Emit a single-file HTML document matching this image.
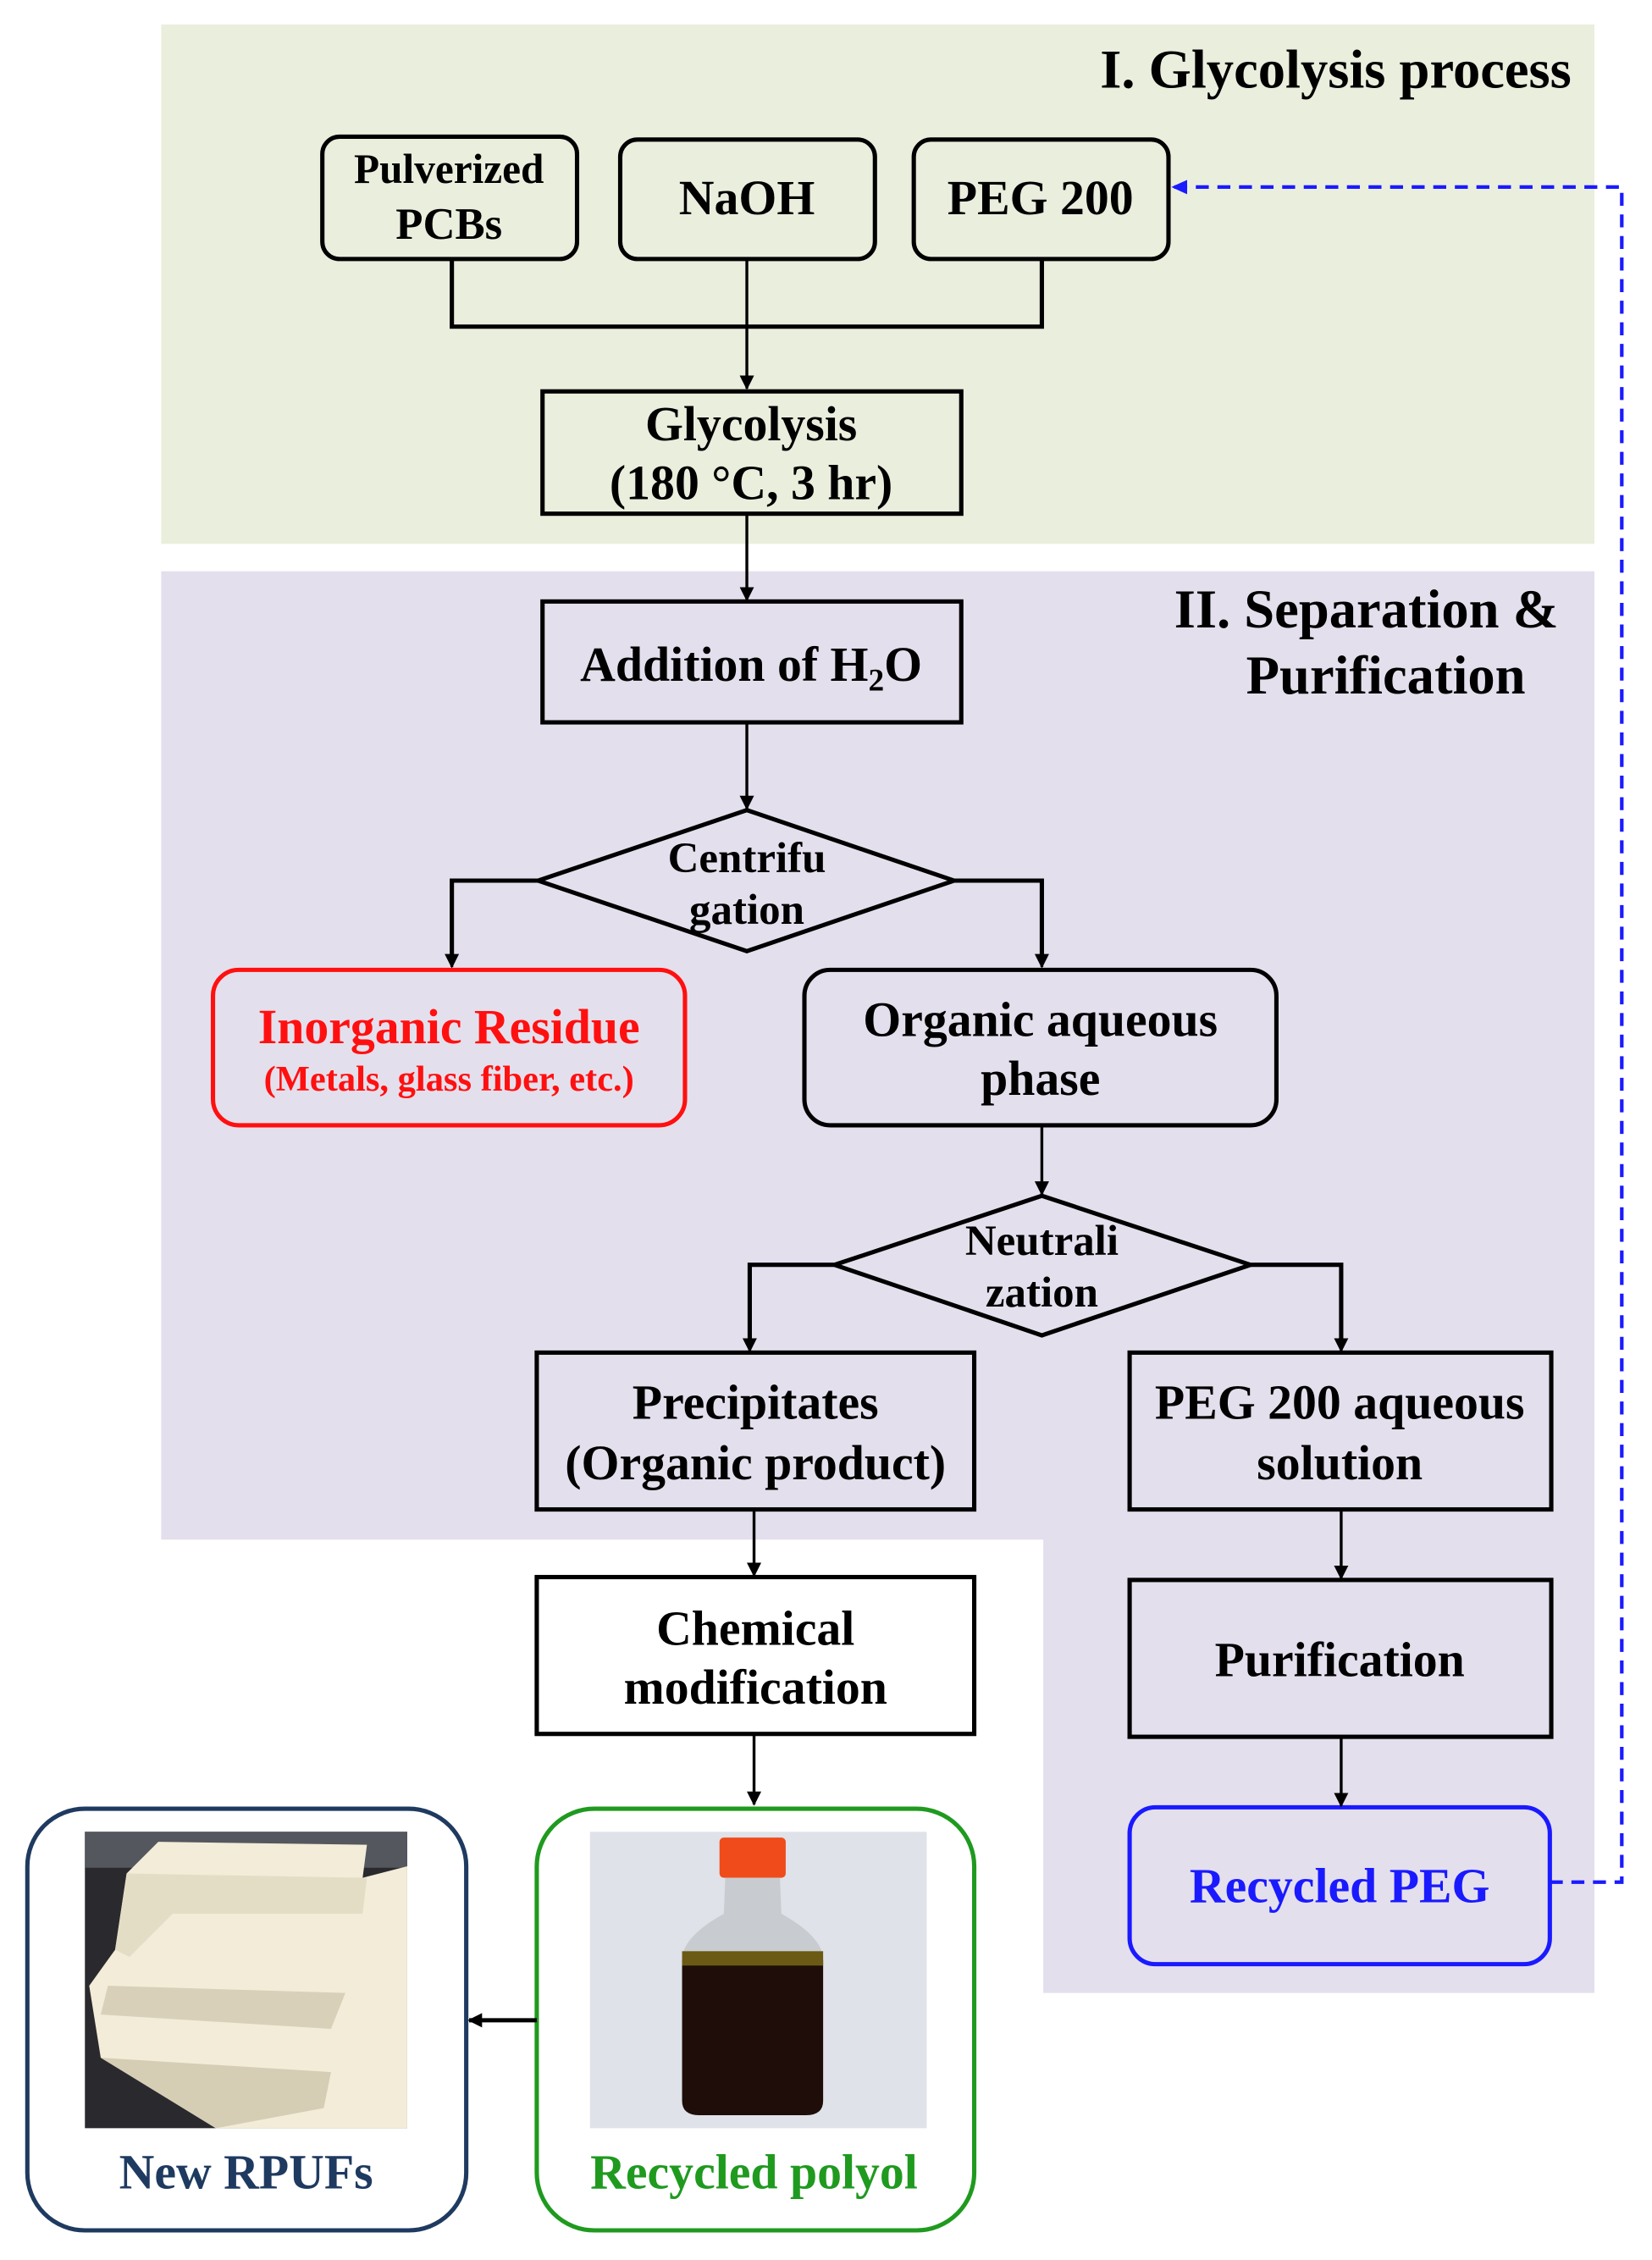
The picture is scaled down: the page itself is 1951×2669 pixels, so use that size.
<!DOCTYPE html>
<html><head><meta charset="utf-8"><style>
html,body{margin:0;padding:0;background:#fff;}
svg{display:block;}
text{font-family:"Liberation Serif",serif;font-weight:bold;}
</style></head><body>
<svg width="1951" height="2669" viewBox="0 0 1148 1570.6" preserveAspectRatio="none" xmlns="http://www.w3.org/2000/svg">
<defs>
<marker id="ah" markerWidth="10" markerHeight="12" refX="9" refY="6" orient="auto" markerUnits="userSpaceOnUse"><path d="M0,1 L10,6 L0,11 Z" fill="#000"/></marker>
<marker id="ahb" markerWidth="12" markerHeight="12" refX="10" refY="6" orient="auto" markerUnits="userSpaceOnUse"><path d="M0,1 L11,6 L0,11 Z" fill="#1a1aff"/></marker>
</defs>
<rect x="112" y="17" width="996" height="361" fill="#eaeedd"/>
<polygon points="112,397 1108,397 1108,1385 725,1385 725,1070 112,1070" fill="#e4dfec"/>
<text x="1092" y="61" font-size="38" text-anchor="end">I. Glycolysis process</text>
<text x="1083" y="436" font-size="38" text-anchor="end">II. Separation &amp;</text>
<text x="963" y="482" font-size="38" text-anchor="middle">Purification</text>

<g fill="none" stroke="#000" stroke-width="3">
<rect x="224" y="95" width="177" height="85" rx="12"/>
<rect x="431" y="97" width="177" height="83" rx="12"/>
<rect x="635" y="97" width="177" height="83" rx="12"/>
<polyline points="314,180 314,227 724,227 724,180"/>
<rect x="377" y="272" width="291" height="85"/>
<rect x="377" y="418" width="291" height="84"/>
<polygon points="374,612 519,563 663,612 519,661"/>
<polyline points="374,612 314,612 314,665"/>
<polyline points="663,612 724,612 724,665"/>
<rect x="559" y="674" width="328" height="108" rx="18"/>
<polygon points="580,879 724,831 869,879 724,928"/>
<polyline points="580,879 521,879 521,933"/>
<polyline points="869,879 932,879 932,933"/>
<rect x="373" y="940" width="304" height="109"/>
<rect x="785" y="940" width="293" height="109"/>
<rect x="373" y="1096" width="304" height="109" fill="#fff"/>
<rect x="785" y="1098" width="293" height="109"/>
</g>
<rect x="148" y="674" width="328" height="108" rx="18" fill="none" stroke="#ff1010" stroke-width="3"/>
<rect x="785" y="1256" width="292" height="109" rx="18" fill="none" stroke="#1a1aff" stroke-width="3"/>
<rect x="373" y="1257" width="304" height="293" rx="40" fill="#fff" stroke="#1f9a1f" stroke-width="3"/>
<rect x="19" y="1257" width="305" height="293" rx="40" fill="#fff" stroke="#1f3a60" stroke-width="3"/>

<g stroke="#000" stroke-width="2" marker-end="url(#ah)">
<line x1="519" y1="180" x2="519" y2="270"/>
<line x1="519" y1="357" x2="519" y2="417"/>
<line x1="519" y1="502" x2="519" y2="562"/>
<line x1="314" y1="640" x2="314" y2="672"/>
<line x1="724" y1="640" x2="724" y2="672"/>
<line x1="724" y1="782" x2="724" y2="830"/>
<line x1="521" y1="910" x2="521" y2="939"/>
<line x1="932" y1="910" x2="932" y2="939"/>
<line x1="524" y1="1049" x2="524" y2="1095"/>
<line x1="932" y1="1049" x2="932" y2="1097"/>
<line x1="524" y1="1205" x2="524" y2="1254"/>
<line x1="932" y1="1207" x2="932" y2="1255"/>
<line x1="373" y1="1404" x2="326" y2="1404" stroke-width="3"/>
</g>
<polyline points="1077,1308 1127,1308 1127,130 815,130" fill="none" stroke="#1a1aff" stroke-width="2.5" stroke-dasharray="9,6" marker-end="url(#ahb)"/>

<g font-size="34" text-anchor="middle" fill="#000">
<text x="312" y="127" font-size="29">Pulverized</text>
<text x="312" y="166" font-size="31">PCBs</text>
<text x="519" y="149">NaOH</text>
<text x="723" y="149">PEG 200</text>
<text x="522" y="306">Glycolysis</text>
<text x="522" y="347">(180 °C, 3 hr)</text>
<text x="522" y="473">Addition of H<tspan font-size="22" dy="7">2</tspan><tspan dy="-7">O</tspan></text>
<text x="519" y="606" font-size="30">Centrifu</text>
<text x="519" y="642" font-size="30">gation</text>
<text x="312" y="725" fill="#ff1010" font-size="34">Inorganic Residue</text>
<text x="312" y="758" fill="#ff1010" font-size="25">(Metals, glass fiber, etc.)</text>
<text x="723" y="720">Organic aqueous</text>
<text x="723" y="761">phase</text>
<text x="724" y="872" font-size="30">Neutrali</text>
<text x="724" y="908" font-size="30">zation</text>
<text x="525" y="986">Precipitates</text>
<text x="525" y="1028">(Organic product)</text>
<text x="931" y="986">PEG 200 aqueous</text>
<text x="931" y="1028">solution</text>
<text x="525" y="1143">Chemical</text>
<text x="525" y="1184">modification</text>
<text x="931" y="1165">Purification</text>
<text x="931" y="1322" fill="#1a1aff">Recycled PEG</text>
<text x="524" y="1521" fill="#1f9a1f">Recycled polyol</text>
<text x="171" y="1521" fill="#1f3a60">New RPUFs</text>
</g>

<rect x="59" y="1273" width="224" height="206" fill="#2a2a2e"/>
<rect x="59" y="1273" width="224" height="25" fill="#55575e"/>
<polygon points="88,1302 110,1280 255,1282 252,1305 283,1297 283,1479 150,1479 70,1430 62,1380 80,1355" fill="#f2ecd8"/>
<polygon points="88,1302 255,1305 252,1330 120,1330 90,1360 80,1355" fill="#e4ddc6"/>
<polygon points="75,1380 240,1385 230,1410 70,1400" fill="#d8d0b8"/>
<polygon points="70,1430 230,1440 225,1465 150,1479" fill="#d6cdb5"/>
<rect x="410" y="1273" width="234" height="206" fill="#dfe2e8"/>
<rect x="500" y="1277" width="46" height="28" rx="3" fill="#f04b1a"/>
<path d="M504,1305 L542,1305 L543,1330 Q570,1345 572,1360 L572,1460 Q572,1470 560,1470 L486,1470 Q474,1470 474,1460 L474,1360 Q476,1345 503,1330 Z" fill="#c8ccd0"/>
<path d="M474,1362 L572,1362 L572,1460 Q572,1470 560,1470 L486,1470 Q474,1470 474,1460 Z" fill="#1e0d08"/>
<rect x="474" y="1356" width="98" height="10" fill="#6b5a14"/>
</svg>
</body></html>
